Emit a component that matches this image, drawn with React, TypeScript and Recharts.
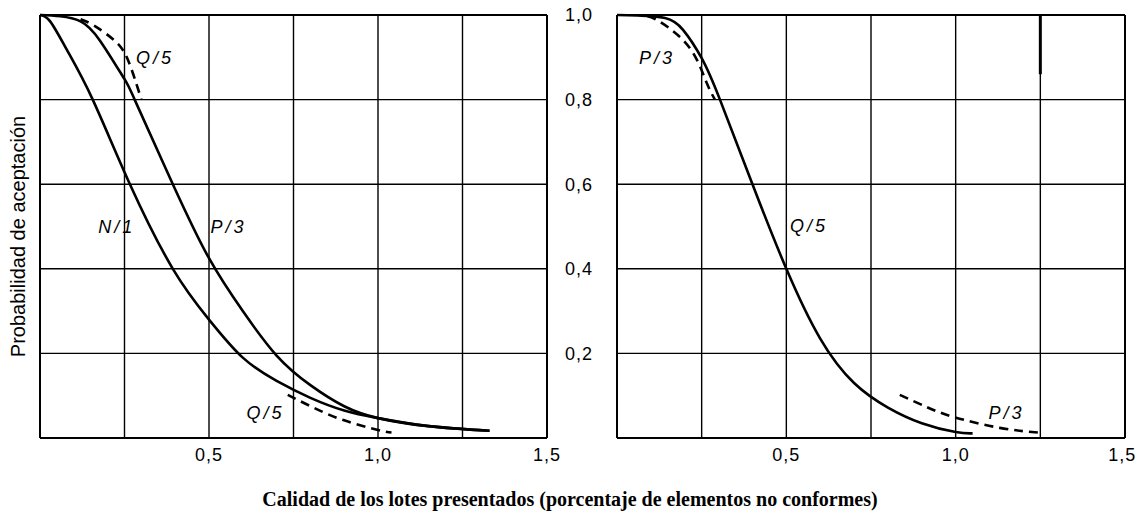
import { LineChart, Line, XAxis, YAxis, CartesianGrid, ReferenceDot, ReferenceLine } from 'recharts'

// Left panel curves
const leftN1X = [0, 0.03, 0.08, 0.156, 0.266, 0.393, 0.5, 0.6, 0.7, 0.8, 0.9, 1.0, 1.15, 1.33]
const leftN1Y = [1, 0.985, 0.917, 0.8, 0.6, 0.4, 0.28, 0.19, 0.135, 0.095, 0.065, 0.047, 0.028, 0.017]

const leftP3X = [0, 0.06, 0.12, 0.177, 0.248, 0.28, 0.393, 0.5, 0.6, 0.7, 0.8, 0.9, 1.0, 1.15, 1.33]
const leftP3Y = [1, 0.997, 0.985, 0.94, 0.851, 0.8, 0.6, 0.425, 0.3, 0.195, 0.125, 0.075, 0.047, 0.028, 0.017]

const leftQ5UpperX = [0.12, 0.16, 0.22, 0.26, 0.3]
const leftQ5UpperY = [0.99, 0.975, 0.94, 0.894, 0.8]

const leftQ5LowerX = [0.733, 0.806, 0.895, 1.0, 1.04]
const leftQ5LowerY = [0.102, 0.073, 0.043, 0.019, 0.013]

// Right panel curves
const rightQ5X = [0, 0.06, 0.142, 0.195, 0.25, 0.304, 0.4, 0.5, 0.6, 0.7, 0.8, 0.9, 1.0, 1.05]
const rightQ5Y = [1, 0.999, 0.993, 0.965, 0.898, 0.8, 0.6, 0.4, 0.235, 0.13, 0.072, 0.035, 0.014, 0.011]

const rightP3UpperX = [0.09, 0.118, 0.186, 0.236, 0.265, 0.289]
const rightP3UpperY = [0.997, 0.988, 0.948, 0.894, 0.839, 0.8]

const rightP3LowerX = [0.835, 0.915, 0.993, 1.13, 1.258]
const rightP3LowerY = [0.102, 0.073, 0.05, 0.024, 0.012]

const xTicks = [0, 0.25, 0.5, 0.75, 1.0, 1.25, 1.5]
const xTickLabels = ['', '', '0,5', '', '1,0', '', '1,5']
const yTicks = [0, 0.2, 0.4, 0.6, 0.8, 1.0]
const yTickLabels = ['', '0,2', '0,4', '0,6', '0,8', '1,0']

const yTitle = 'Probabilidad de aceptación'
const xTitle = 'Calidad de los lotes presentados (porcentaje de elementos no conformes)'

const zip = (xs: number[], ys: number[]) => xs.map((x, i) => ({ x, y: ys[i] }))

const sans = '"Liberation Sans", Arial, sans-serif'
const tickStyle = { fontSize: 18, fill: '#000', fontFamily: sans, letterSpacing: 1 }
const curveLabel = (value: string) => ({
  value,
  position: 'center' as const,
  fill: '#000',
  fontSize: 18,
  fontStyle: 'italic',
  fontFamily: sans,
  letterSpacing: 3,
})

function YTitle({ viewBox }: any) {
  const x = viewBox.x + viewBox.width - 22
  const y = viewBox.y + viewBox.height / 2 + 10
  return (
    <text
      x={x}
      y={y}
      transform={`rotate(-90, ${x}, ${y})`}
      textAnchor="middle"
      dominantBaseline="central"
      fontSize={20}
      fontFamily={sans}
      fill="#000"
    >
      {yTitle}
    </text>
  )
}

const solid = { stroke: '#000', strokeWidth: 2.6, dot: false, isAnimationActive: false, type: 'natural' as const }
const dashed = { ...solid, strokeDasharray: '9 6' }

function App() {
  return (
    <div style={{ position: 'absolute', left: 0, top: 0, width: 1135, height: 512, background: '#fff' }}>
      <div style={{ position: 'absolute', left: 0, top: 0 }}>
        <LineChart width={560} height={470} margin={{ top: 15, right: 13, bottom: 0, left: 0 }}>
          <CartesianGrid stroke="#000" strokeWidth={1.4} />
          <ReferenceLine y={1} stroke="#000" strokeWidth={2} />
          <ReferenceLine x={1.5} stroke="#000" strokeWidth={2} />
          <XAxis
            dataKey="x"
            type="number"
            domain={[0, 1.5]}
            ticks={xTicks}
            tickFormatter={(v: number) => xTickLabels[xTicks.indexOf(v)] ?? ''}
            tick={tickStyle}
            tickLine={false}
            tickSize={0}
            tickMargin={10}
            height={32}
            axisLine={{ stroke: '#000', strokeWidth: 2 }}
          />
          <YAxis
            type="number"
            domain={[0, 1]}
            ticks={yTicks}
            tickFormatter={() => ''}
            tickLine={false}
            tickSize={0}
            width={40}
            axisLine={{ stroke: '#000', strokeWidth: 2 }}
            label={<YTitle />}
          />
          <Line data={zip(leftN1X, leftN1Y)} dataKey="y" {...solid} />
          <Line data={zip(leftP3X, leftP3Y)} dataKey="y" {...solid} />
          <Line data={zip(leftQ5UpperX, leftQ5UpperY)} dataKey="y" {...dashed} />
          <Line data={zip(leftQ5LowerX, leftQ5LowerY)} dataKey="y" {...dashed} />
          <ReferenceDot x={0.34} y={0.9} r={1} fill="none" stroke="none" label={curveLabel('Q/5')} />
          <ReferenceDot x={0.227} y={0.5} r={1} fill="none" stroke="none" label={curveLabel('N/1')} />
          <ReferenceDot x={0.558} y={0.5} r={1} fill="none" stroke="none" label={curveLabel('P/3')} />
          <ReferenceDot x={0.667} y={0.059} r={1} fill="none" stroke="none" label={curveLabel('Q/5')} />
        </LineChart>
      </div>
      <div style={{ position: 'absolute', left: 560, top: 0 }}>
        <LineChart width={575} height={470} margin={{ top: 15, right: 10, bottom: 0, left: 0 }}>
          <CartesianGrid stroke="#000" strokeWidth={1.4} />
          <ReferenceLine y={1} stroke="#000" strokeWidth={2} />
          <ReferenceLine x={1.5} stroke="#000" strokeWidth={2} />
          <XAxis
            dataKey="x"
            type="number"
            domain={[0, 1.5]}
            ticks={xTicks}
            tickFormatter={(v: number) => xTickLabels[xTicks.indexOf(v)] ?? ''}
            tick={tickStyle}
            tickLine={false}
            tickSize={0}
            tickMargin={10}
            height={32}
            axisLine={{ stroke: '#000', strokeWidth: 2 }}
          />
          <YAxis
            type="number"
            domain={[0, 1]}
            ticks={yTicks}
            tickFormatter={(v: number) => yTickLabels[yTicks.indexOf(v)] ?? ''}
            tick={tickStyle}
            tickLine={false}
            tickSize={0}
            tickMargin={24}
            width={57}
            axisLine={{ stroke: '#000', strokeWidth: 2 }}
          />
          <ReferenceLine
            segment={[{ x: 1.25, y: 1 }, { x: 1.25, y: 0.86 }]}
            stroke="#000"
            strokeWidth={3}
          />
          <Line data={zip(rightQ5X, rightQ5Y)} dataKey="y" {...solid} />
          <Line data={zip(rightP3UpperX, rightP3UpperY)} dataKey="y" {...dashed} />
          <Line data={zip(rightP3LowerX, rightP3LowerY)} dataKey="y" {...dashed} />
          <ReferenceDot x={0.118} y={0.9} r={1} fill="none" stroke="none" label={curveLabel('P/3')} />
          <ReferenceDot x={0.567} y={0.503} r={1} fill="none" stroke="none" label={curveLabel('Q/5')} />
          <ReferenceDot x={1.15} y={0.061} r={1} fill="none" stroke="none" label={curveLabel('P/3')} />
        </LineChart>
      </div>
      <div
        style={{
          position: 'absolute',
          left: 0,
          top: 489,
          width: 1140,
          textAlign: 'center',
          fontFamily: '"Liberation Serif", "Times New Roman", serif',
          fontWeight: 'bold',
          fontSize: 20,
          lineHeight: '20px',
          color: '#000',
          whiteSpace: 'nowrap',
        }}
      >
        {xTitle}
      </div>
    </div>
  )
}

export default App
